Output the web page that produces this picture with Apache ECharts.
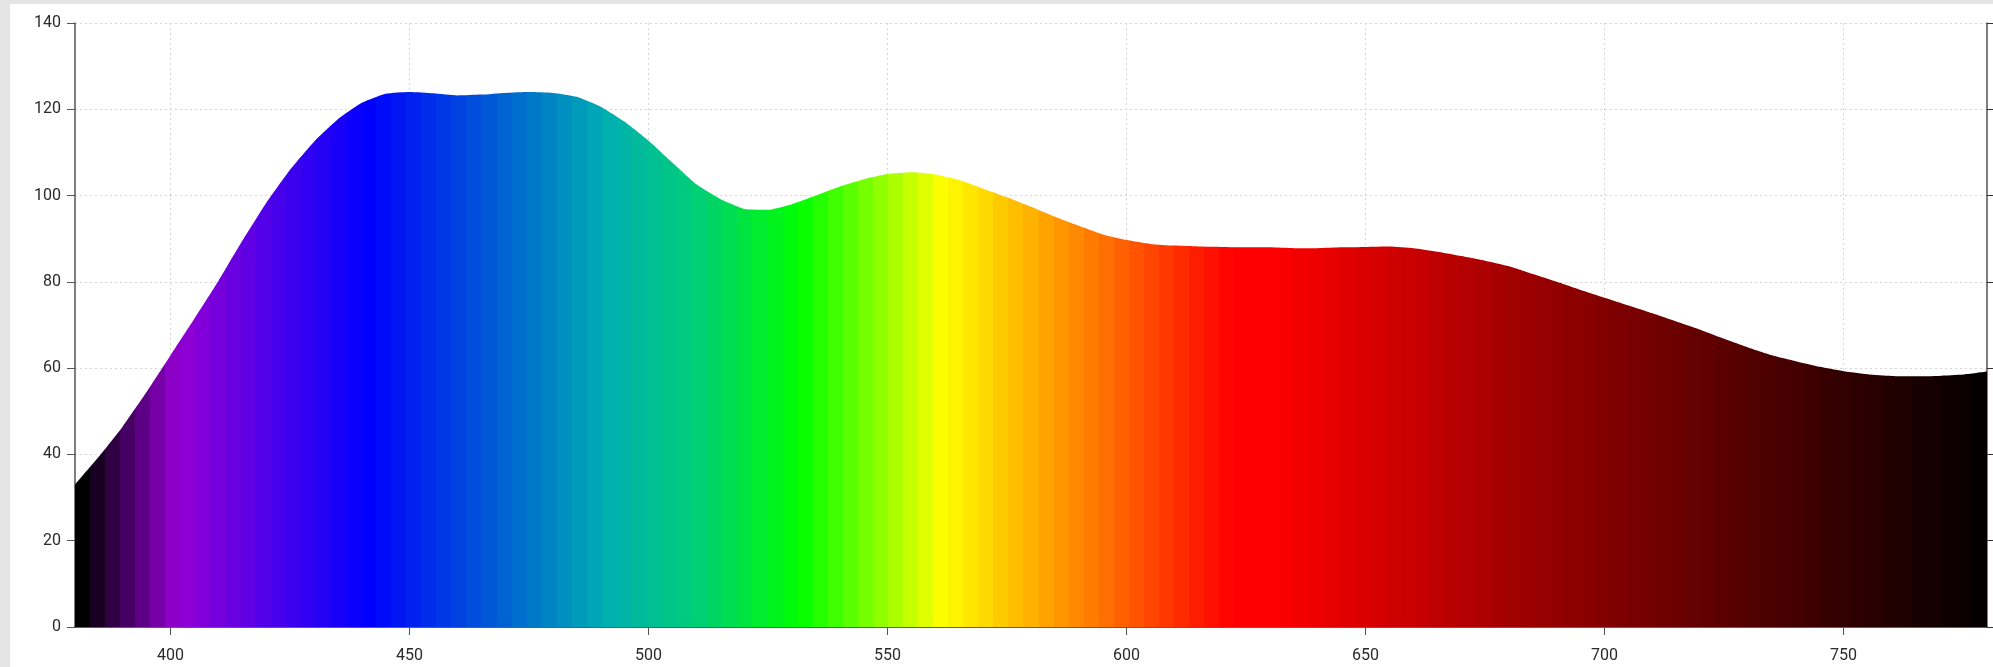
<!DOCTYPE html>
<html>
<head>
<meta charset="utf-8">
<script src="https://cdn.jsdelivr.net/npm/echarts@6/dist/echarts.min.js"></script>
<style>
  html, body { margin: 0; padding: 0; width: 1993px; height: 667px; background: #e4e4e4; overflow: hidden; }
  #main { position: absolute; left: 10px; top: 4px; width: 1983px; height: 663px; background: #fff; }
</style>
</head>
<body>
<div id="main"></div>
<script>
// ---- data ----
const wavelengths = [380,385,390,395,400,405,410,415,420,425,430,435,440,445,450,455,460,465,470,475,480,485,490,495,500,505,510,515,520,525,530,535,540,545,550,555,560,565,570,575,580,585,590,595,600,605,610,615,620,625,630,635,640,645,650,655,660,665,670,675,680,685,690,695,700,705,710,715,720,725,730,735,740,745,750,755,760,765,770,775,780];
const intensity = [33.0,39.5,46.5,54.5,63.0,71.5,80.2,89.5,98.3,106.0,112.5,117.7,121.5,123.6,124.0,123.7,123.2,123.4,123.8,124.0,123.8,122.9,120.6,117.1,112.7,107.6,102.6,99.2,96.9,96.7,98.0,100.0,102.1,103.8,105.0,105.4,104.9,103.6,101.6,99.6,97.4,95.1,93.0,91.0,89.7,88.8,88.4,88.2,88.1,88.0,88.0,87.8,87.8,88.0,88.1,88.2,87.8,87.0,86.0,84.9,83.6,81.8,80.0,78.1,76.3,74.5,72.7,70.8,68.9,66.8,64.8,63.0,61.6,60.3,59.3,58.6,58.2,58.1,58.2,58.5,59.2];
const xTicks = [400,450,500,550,600,650,700,750];
const yTicks = [0,20,40,60,80,100,120,140];

// ---- style: wavelength colour ramp ----
const rampStops = [[380,[0,0,0]],[400,[148,0,211]],[440,[0,0,255]],[490,[0,176,176]],[510,[0,208,112]],[530,[0,255,0]],[560,[255,255,0]],[620,[255,0,0]],[628,[255,0,0]],[680,[160,0,0]],[780,[0,0,0]]];
function rampColor(w) {
  for (let i = 0; i < rampStops.length - 1; i++) {
    const [w0, c0] = rampStops[i], [w1, c1] = rampStops[i + 1];
    if (w >= w0 && w <= w1) {
      const t = (w - w0) / (w1 - w0);
      const c = c0.map((v, k) => Math.round(v + (c1[k] - v) * t));
      return 'rgb(' + c.join(',') + ')';
    }
  }
  return 'rgb(0,0,0)';
}
const X_MIN = 380, X_MAX = 780, BANDS = 127;
const gradStops = [];
for (let i = 0; i < BANDS; i++) {
  const col = rampColor(X_MIN + i * (X_MAX - X_MIN) / BANDS);
  gradStops.push({ offset: i / BANDS, color: col });
  gradStops.push({ offset: (i + 1) / BANDS, color: col });
}

const chart = echarts.init(document.getElementById('main'), null, { renderer: 'canvas' });
const labelStyle = { color: '#2a2a2a', fontFamily: 'Roboto', fontSize: 16 };
const axisLine = { show: true, lineStyle: { color: '#555', width: 1.5 } };
const gridLine = { show: true, lineStyle: { color: '#d6d6d6', type: [2, 3], width: 1 } };

chart.setOption({
  animation: false,
  backgroundColor: '#fff',
  grid: { left: 65, right: 6, top: 19, bottom: 40, containLabel: false },
  xAxis: [
    { type: 'value', min: X_MIN, max: X_MAX, position: 'bottom',
      axisLine: axisLine,
      axisTick: { show: true, customValues: xTicks, length: 8, lineStyle: { color: '#555', width: 1 } },
      axisLabel: Object.assign({ customValues: xTicks, margin: 21 }, labelStyle),
      splitLine: gridLine },
    { type: 'value', min: X_MIN, max: X_MAX, position: 'top',
      axisLine: axisLine,
      axisTick: { show: true, customValues: xTicks, length: 8, lineStyle: { color: '#111', width: 1 } },
      axisLabel: { show: false },
      splitLine: { show: false } }
  ],
  yAxis: [
    { type: 'value', min: 0, max: 140, interval: 20, position: 'left',
      axisLine: axisLine,
      axisTick: { show: true, length: 8, lineStyle: { color: '#555', width: 1 } },
      axisLabel: Object.assign({ margin: 14 }, labelStyle),
      splitLine: gridLine },
    { type: 'value', min: 0, max: 140, interval: 20, position: 'right',
      axisLine: axisLine,
      axisTick: { show: true, length: 8, lineStyle: { color: '#333', width: 1 } },
      axisLabel: { show: false },
      splitLine: { show: false } }
  ],
  series: [{
    type: 'line',
    xAxisIndex: 0, yAxisIndex: 0,
    data: wavelengths.map((w, i) => [w, intensity[i]]),
    showSymbol: false,
    smooth: 0.15,
    lineStyle: { width: 0, opacity: 0 },
    areaStyle: { opacity: 1, color: new echarts.graphic.LinearGradient(0, 0, 1, 0, gradStops) },
    z: 1
  }]
});
</script>
</body>
</html>
